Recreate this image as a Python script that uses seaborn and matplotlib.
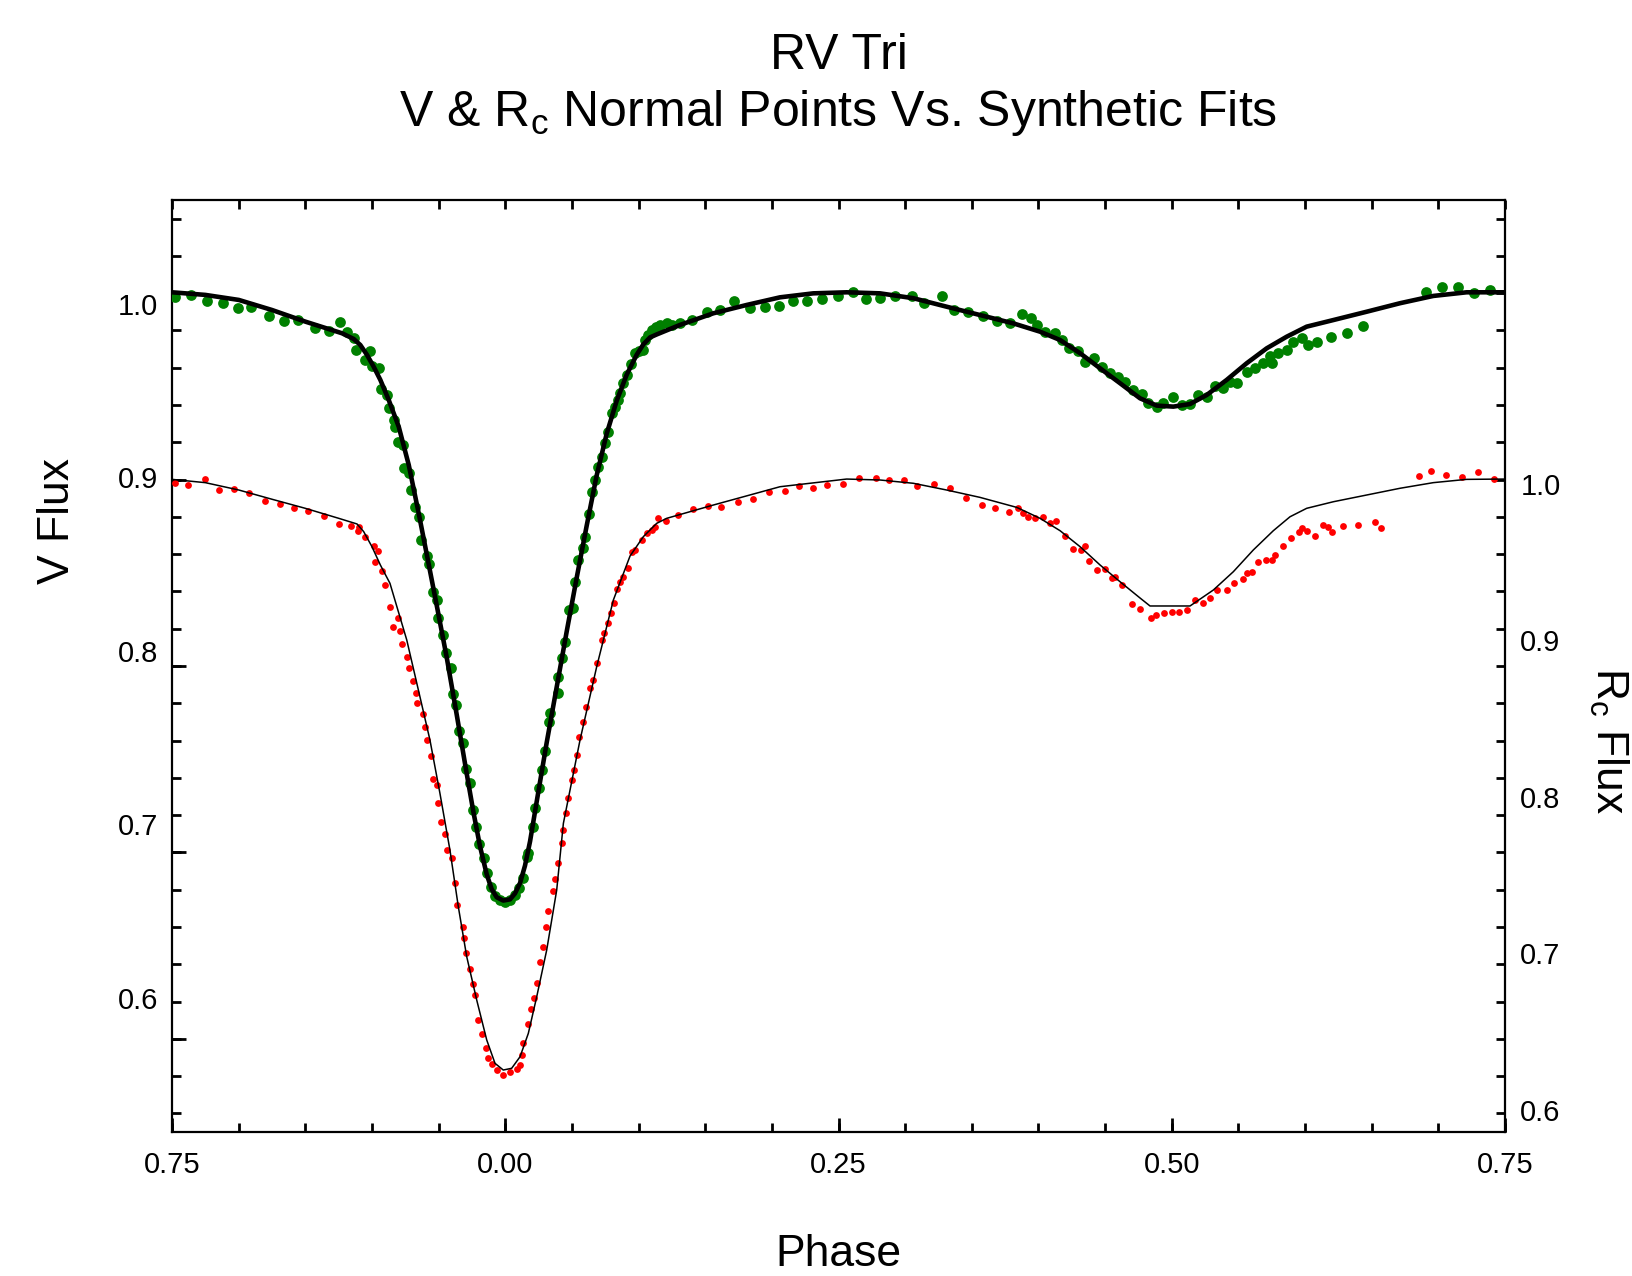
import matplotlib
matplotlib.use("Agg")
import matplotlib.pyplot as plt
from matplotlib.ticker import MultipleLocator, FixedLocator
import seaborn as sns

# V normal points (phase, flux)
v_phase = [-0.2475, -0.2357, -0.2237, -0.2117, -0.2003, -0.1905, -0.1775, -0.1660, -0.1555, -0.1430,
           -0.1325, -0.1237, -0.1187, -0.1137, -0.1117, -0.1054, -0.1017, -0.1000, -0.0950, -0.0930,
           -0.0887, -0.0875, -0.0837, -0.0825, -0.0805, -0.0769, -0.0757, -0.0720, -0.0705, -0.0675,
           -0.0649, -0.0634, -0.0589, -0.0570, -0.0540, -0.0514, -0.0502, -0.0465, -0.0444, -0.0409,
           -0.0394, -0.0369, -0.0345, -0.0319, -0.0294, -0.0264, -0.0244, -0.0219, -0.0195, -0.0159,
           -0.0139, -0.0109, -0.0077, -0.0039, -0.0002, 0.0036, 0.0073, 0.0106, 0.0131, 0.0161,
           0.0173, 0.0206, 0.0223, 0.0256, 0.0274, 0.0298, 0.0331, 0.0336, 0.0393, 0.0398,
           0.0423, 0.0448, 0.0476, 0.0506, 0.0523, 0.0548, 0.0581, 0.0598, 0.0631, 0.0649,
           0.0673, 0.0698, 0.0723, 0.0748, 0.0773, 0.0798, 0.0823, 0.0848, 0.0861, 0.0886,
           0.0911, 0.0941, 0.0973, 0.1006, 0.1036, 0.1048, 0.1073, 0.1098, 0.1131, 0.1161,
           0.1211, 0.1249, 0.1311, 0.1399, 0.1511, 0.1611, 0.1716, 0.1836, 0.1949, 0.2054,
           0.2161, 0.2266, 0.2379, 0.2499, 0.2607, 0.2706, 0.2811, 0.2924, 0.3049, 0.3141,
           0.3274, 0.3366, 0.3474, 0.3586, 0.3687, 0.3787, 0.3874, 0.3942, 0.3987, 0.4049,
           0.4124, 0.4174, 0.4231, 0.4299, 0.4349, 0.4417, 0.4474, 0.4537, 0.4599, 0.4649,
           0.4712, 0.4774, 0.4824, 0.4887, 0.4937, 0.5012, 0.5074, 0.5137, 0.5199, 0.5262,
           0.5324, 0.5387, 0.5437, 0.5487, 0.5562, 0.5624, 0.5687, 0.5737, 0.5750, 0.5799,
           0.5862, 0.5912, 0.5974, 0.6024, 0.6092, 0.6195, 0.6317, 0.6433, 0.6907, 0.7027,
           0.7150, 0.7270, 0.7387]
v_flux = [1.0040, 1.0050, 1.0017, 1.0002, 0.9973, 0.9982, 0.9930, 0.9901, 0.9905, 0.9858,
          0.9844, 0.9896, 0.9838, 0.9800, 0.9733, 0.9675, 0.9729, 0.9640, 0.9627, 0.9506,
          0.9473, 0.9397, 0.9329, 0.9290, 0.9204, 0.9185, 0.9051, 0.9022, 0.8926, 0.8829,
          0.8768, 0.8637, 0.8545, 0.8499, 0.8339, 0.8292, 0.8186, 0.8090, 0.7984, 0.7898,
          0.7750, 0.7686, 0.7538, 0.7466, 0.7316, 0.7239, 0.7081, 0.6985, 0.6885, 0.6803,
          0.6720, 0.6639, 0.6586, 0.6563, 0.6553, 0.6563, 0.6591, 0.6630, 0.6688, 0.6812,
          0.6832, 0.6985, 0.7091, 0.7206, 0.7312, 0.7423, 0.7590, 0.7639, 0.7754, 0.7850,
          0.7956, 0.8051, 0.8234, 0.8244, 0.8397, 0.8522, 0.8590, 0.8657, 0.8787, 0.8916,
          0.8983, 0.9060, 0.9118, 0.9195, 0.9262, 0.9368, 0.9406, 0.9444, 0.9483, 0.9541,
          0.9588, 0.9652, 0.9714, 0.9729, 0.9733, 0.9790, 0.9819, 0.9848, 0.9867, 0.9877,
          0.9886, 0.9877, 0.9886, 0.9905, 0.9950, 0.9963, 1.0017, 0.9973, 0.9979, 0.9988,
          1.0017, 1.0017, 1.0027, 1.0046, 1.0065, 1.0027, 1.0034, 1.0046, 1.0046, 1.0002,
          1.0046, 0.9963, 0.9953, 0.9930, 0.9901, 0.9890, 0.9940, 0.9915, 0.9877, 0.9838,
          0.9832, 0.9790, 0.9742, 0.9729, 0.9665, 0.9685, 0.9633, 0.9598, 0.9575, 0.9550,
          0.9502, 0.9479, 0.9429, 0.9406, 0.9425, 0.9463, 0.9416, 0.9421, 0.9473, 0.9460,
          0.9525, 0.9512, 0.9550, 0.9541, 0.9608, 0.9627, 0.9656, 0.9698, 0.9659, 0.9717,
          0.9733, 0.9780, 0.9800, 0.9761, 0.9780, 0.9809, 0.9829, 0.9871, 1.0065, 1.0094,
          1.0094, 1.0059, 1.0078]

# V synthetic fit
v_fit_phase = [-0.2500, -0.2250, -0.1999, -0.1750, -0.1500, -0.1225, -0.1137, -0.1087, -0.1037, -0.0987,
               -0.0937, -0.0874, -0.0799, -0.0724, -0.0649, -0.0580, -0.0514, -0.0439, -0.0364, -0.0289,
               -0.0239, -0.0189, -0.0139, -0.0102, -0.0064, -0.0015, 0.0036, 0.0073, 0.0111, 0.0148,
               0.0186, 0.0236, 0.0311, 0.0386, 0.0461, 0.0536, 0.0611, 0.0686, 0.0761, 0.0836,
               0.0911, 0.0986, 0.1036, 0.1086, 0.1136, 0.1311, 0.1561, 0.1811, 0.2061, 0.2311,
               0.2561, 0.2811, 0.3061, 0.3311, 0.3561, 0.3811, 0.4012, 0.4162, 0.4312, 0.4462,
               0.4612, 0.4762, 0.4887, 0.5012, 0.5137, 0.5262, 0.5412, 0.5562, 0.5712, 0.5862,
               0.6012, 0.6212, 0.6462, 0.6712, 0.6962, 0.7212, 0.7500]
v_fit_flux = [1.0065, 1.0050, 1.0021, 0.9963, 0.9896, 0.9829, 0.9796, 0.9761, 0.9704, 0.9636,
              0.9560, 0.9444, 0.9290, 0.9070, 0.8790, 0.8520, 0.8260, 0.7960, 0.7630, 0.7290,
              0.7070, 0.6870, 0.6710, 0.6625, 0.6578, 0.6559, 0.6566, 0.6600, 0.6660, 0.6760,
              0.6900, 0.7130, 0.7470, 0.7790, 0.8110, 0.8420, 0.8720, 0.9010, 0.9250, 0.9440,
              0.9590, 0.9705, 0.9765, 0.9805, 0.9822, 0.9877, 0.9944, 0.9992, 1.0036, 1.0059,
              1.0065, 1.0059, 1.0031, 0.9982, 0.9934, 0.9886, 0.9838, 0.9790, 0.9714, 0.9627,
              0.9541, 0.9454, 0.9412, 0.9406, 0.9421, 0.9473, 0.9560, 0.9656, 0.9742, 0.9809,
              0.9867, 0.9905, 0.9953, 1.0002, 1.0044, 1.0065, 1.0065]

# Rc normal points (phase, flux)
r_phase = [-0.2480, -0.2382, -0.2255, -0.2145, -0.2037, -0.1920, -0.1800, -0.1692, -0.1587, -0.1482,
           -0.1362, -0.1249, -0.1157, -0.1105, -0.1095, -0.1050, -0.0987, -0.0975, -0.0955, -0.0925,
           -0.0902, -0.0865, -0.0840, -0.0807, -0.0790, -0.0777, -0.0740, -0.0720, -0.0694, -0.0669,
           -0.0660, -0.0619, -0.0602, -0.0589, -0.0559, -0.0539, -0.0514, -0.0502, -0.0482, -0.0452,
           -0.0434, -0.0402, -0.0377, -0.0364, -0.0314, -0.0306, -0.0294, -0.0264, -0.0244, -0.0227,
           -0.0202, -0.0177, -0.0144, -0.0127, -0.0102, -0.0065, -0.0015, 0.0036, 0.0086, 0.0111,
           0.0123, 0.0136, 0.0173, 0.0191, 0.0216, 0.0241, 0.0261, 0.0286, 0.0306, 0.0324,
           0.0357, 0.0374, 0.0399, 0.0424, 0.0431, 0.0456, 0.0473, 0.0499, 0.0518, 0.0536,
           0.0556, 0.0581, 0.0606, 0.0636, 0.0661, 0.0686, 0.0723, 0.0741, 0.0773, 0.0791,
           0.0816, 0.0841, 0.0861, 0.0886, 0.0924, 0.0949, 0.0973, 0.1024, 0.1061, 0.1099,
           0.1124, 0.1149, 0.1206, 0.1294, 0.1406, 0.1519, 0.1619, 0.1744, 0.1861, 0.1981,
           0.2099, 0.2204, 0.2311, 0.2416, 0.2532, 0.2656, 0.2779, 0.2881, 0.2994, 0.3087,
           0.3217, 0.3337, 0.3457, 0.3575, 0.3674, 0.3782, 0.3849, 0.3887, 0.3924, 0.3974,
           0.4032, 0.4087, 0.4132, 0.4199, 0.4262, 0.4317, 0.4349, 0.4382, 0.4442, 0.4500,
           0.4550, 0.4575, 0.4625, 0.4700, 0.4765, 0.4844, 0.4882, 0.4945, 0.5001, 0.5054,
           0.5117, 0.5171, 0.5235, 0.5287, 0.5337, 0.5412, 0.5469, 0.5532, 0.5567, 0.5600,
           0.5649, 0.5707, 0.5750, 0.5774, 0.5832, 0.5892, 0.5957, 0.5974, 0.6017, 0.6074,
           0.6132, 0.6174, 0.6200, 0.6287, 0.6400, 0.6525, 0.6567, 0.6857, 0.6945, 0.7057,
           0.7175, 0.7300, 0.7420]
r_flux = [1.0008, 0.9993, 1.0029, 0.9961, 0.9965, 0.9944, 0.9893, 0.9870, 0.9844, 0.9829,
          0.9795, 0.9744, 0.9733, 0.9701, 0.9727, 0.9659, 0.9603, 0.9503, 0.9573, 0.9443,
          0.9354, 0.9215, 0.9088, 0.9141, 0.9062, 0.8977, 0.8896, 0.8822, 0.8743, 0.8662,
          0.8598, 0.8530, 0.8449, 0.8364, 0.8261, 0.8112, 0.8076, 0.7959, 0.7842, 0.7763,
          0.7661, 0.7608, 0.7448, 0.7309, 0.7171, 0.7096, 0.7004, 0.6898, 0.6804, 0.6734,
          0.6574, 0.6485, 0.6394, 0.6330, 0.6293, 0.6255, 0.6223, 0.6244, 0.6259, 0.6287,
          0.6351, 0.6430, 0.6549, 0.6643, 0.6713, 0.6813, 0.6947, 0.7039, 0.7171, 0.7273,
          0.7401, 0.7473, 0.7576, 0.7707, 0.7788, 0.7895, 0.7991, 0.8108, 0.8172, 0.8268,
          0.8385, 0.8481, 0.8576, 0.8694, 0.8747, 0.8858, 0.9003, 0.9045, 0.9113, 0.9177,
          0.9237, 0.9327, 0.9375, 0.9403, 0.9461, 0.9567, 0.9578, 0.9642, 0.9684, 0.9705,
          0.9727, 0.9780, 0.9765, 0.9801, 0.9840, 0.9861, 0.9854, 0.9886, 0.9903, 0.9946,
          0.9956, 0.9987, 0.9972, 0.9993, 0.9999, 1.0036, 1.0036, 1.0025, 1.0025, 0.9989,
          0.9997, 0.9976, 0.9912, 0.9865, 0.9844, 0.9822, 0.9844, 0.9816, 0.9787, 0.9780,
          0.9787, 0.9748, 0.9765, 0.9667, 0.9582, 0.9578, 0.9603, 0.9509, 0.9450, 0.9454,
          0.9397, 0.9407, 0.9354, 0.9233, 0.9199, 0.9146, 0.9165, 0.9173, 0.9179, 0.9179,
          0.9192, 0.9259, 0.9239, 0.9271, 0.9322, 0.9322, 0.9369, 0.9390, 0.9428, 0.9439,
          0.9503, 0.9513, 0.9513, 0.9546, 0.9603, 0.9656, 0.9694, 0.9716, 0.9701, 0.9667,
          0.9737, 0.9727, 0.9694, 0.9733, 0.9737, 0.9755, 0.9720, 1.0052, 1.0084, 1.0057,
          1.0042, 1.0074, 1.0031]

# Rc synthetic fit
r_fit_phase = [-0.2500, -0.2250, -0.1999, -0.1750, -0.1500, -0.1249, -0.1112, -0.1062, -0.1000, -0.0937,
               -0.0865, -0.0739, -0.0640, -0.0565, -0.0490, -0.0415, -0.0352, -0.0289, -0.0214, -0.0139,
               -0.0077, -0.0015, 0.0048, 0.0111, 0.0173, 0.0236, 0.0311, 0.0386, 0.0436, 0.0561,
               0.0686, 0.0811, 0.0936, 0.1036, 0.1136, 0.1211, 0.1561, 0.2061, 0.2561, 0.2811,
               0.3061, 0.3311, 0.3561, 0.3837, 0.4012, 0.4162, 0.4312, 0.4462, 0.4612, 0.4762,
               0.4837, 0.5137, 0.5312, 0.5462, 0.5612, 0.5762, 0.5887, 0.6012, 0.6212, 0.6462,
               0.6712, 0.6962, 0.7212, 0.7500]
r_fit_flux = [1.0029, 1.0008, 0.9961, 0.9902, 0.9844, 0.9780, 0.9744, 0.9695, 0.9599, 0.9482,
              0.9365, 0.9003, 0.8640, 0.8364, 0.8023, 0.7661, 0.7298, 0.6979, 0.6702, 0.6447,
              0.6298, 0.6255, 0.6266, 0.6340, 0.6489, 0.6723, 0.7022, 0.7405, 0.7831, 0.8364,
              0.8832, 0.9258, 0.9539, 0.9663, 0.9748, 0.9780, 0.9865, 0.9982, 1.0031, 1.0025,
              1.0004, 0.9961, 0.9914, 0.9850, 0.9780, 0.9701, 0.9599, 0.9482, 0.9375, 0.9271,
              0.9220, 0.9220, 0.9322, 0.9439, 0.9578, 0.9701, 0.9790, 0.9844, 0.9886, 0.9929,
              0.9972, 1.0008, 1.0029, 1.0031]

x_ticks = [-0.25, 0.0, 0.25, 0.5, 0.75]
x_tick_labels = ["0.75", "0.00", "0.25", "0.50", "0.75"]
y_ticks = [0.6, 0.7, 0.8, 0.9, 1.0]
y_tick_labels = ["0.6", "0.7", "0.8", "0.9", "1.0"]

plt.rcParams['font.family'] = ['Liberation Sans', 'DejaVu Sans']
plt.rcParams['mathtext.fontset'] = 'custom'
plt.rcParams['mathtext.rm'] = 'Liberation Sans'
plt.rcParams['mathtext.it'] = 'Liberation Sans:italic'

fig = plt.figure(figsize=(16.33, 12.76), dpi=100)
ax = fig.add_axes([0.10533, 0.11285, 0.81629, 0.73041])
ax_v = ax.twinx()
ax_r = ax.twinx()

# V points and fit (left scale)
sns.scatterplot(x=v_phase, y=v_flux, ax=ax_v, color='#008000', s=60, linewidth=0, zorder=1)
sns.lineplot(x=v_fit_phase, y=v_fit_flux, ax=ax_v, color='black', linewidth=3.3,
             sort=False, estimator=None, zorder=2)

# Rc points and fit (right scale)
sns.scatterplot(x=r_phase, y=r_flux, ax=ax_r, color='#ff0000', s=24, linewidth=0, zorder=1)
sns.lineplot(x=r_fit_phase, y=r_fit_flux, ax=ax_r, color='black', linewidth=1.1,
             sort=False, estimator=None, zorder=2)

# frame with tick marks
ax.set_xlim(-0.25, 0.75)
ax.set_ylim(0.55, 1.05)
ax.xaxis.set_major_locator(FixedLocator(x_ticks))
ax.xaxis.set_minor_locator(MultipleLocator(0.05))
ax.set_xticklabels(x_tick_labels)
ax.yaxis.set_major_locator(MultipleLocator(0.1))
ax.yaxis.set_minor_locator(MultipleLocator(0.02))
ax.xaxis.remove_overlapping_locs = False
ax.yaxis.remove_overlapping_locs = False
ax.tick_params(which='both', direction='in', width=2, color='black',
               bottom=True, top=True, left=True, right=True,
               labelleft=False, labelright=False)
ax.tick_params(which='major', length=10, top=False, right=False)
ax.tick_params(which='minor', length=6.5)
ax.tick_params(axis='x', which='major', labelsize=21, pad=14)
for sp in ax.spines.values():
    sp.set_linewidth(1.6)

# left (V) labels
ax_v.set_ylim(0.5225, 1.0597)
ax_v.yaxis.set_ticks_position('left')
ax_v.set_yticks(y_ticks)
ax_v.set_yticklabels(y_tick_labels)
ax_v.tick_params(axis='y', length=0, pad=10, labelsize=21, left=True, right=False,
                 labelleft=True, labelright=False)

# right (Rc) labels
ax_r.set_ylim(0.5859, 1.1814)
ax_r.set_yticks(y_ticks)
ax_r.set_yticklabels(y_tick_labels)
ax_r.tick_params(axis='y', length=0, pad=11, labelsize=21, left=False, right=True,
                 labelleft=False, labelright=True)

for a in (ax_v, ax_r):
    a.set_xlim(-0.25, 0.75)
    a.set_xlabel('')
    a.set_ylabel('')
    for sp in a.spines.values():
        sp.set_visible(False)

# titles and axis labels
fig.text(0.5135, 0.9457, 'RV Tri', ha='center', va='baseline', fontsize=36)
fig.text(0.5135, 0.9013, r'V & R$_{\mathrm{c}}$ Normal Points Vs. Synthetic Fits',
         ha='center', va='baseline', fontsize=36)
fig.text(0.5135, 0.0165, 'Phase', ha='center', va='center', fontsize=32)
fig.text(0.035, 0.5917, 'V Flux', ha='center', va='center', rotation=90, fontsize=32)
fig.text(0.9853, 0.4193, r'R$_{\mathrm{c}}$ Flux', ha='center', va='center', rotation=270, fontsize=32)

fig.savefig('out.png', dpi=100)
